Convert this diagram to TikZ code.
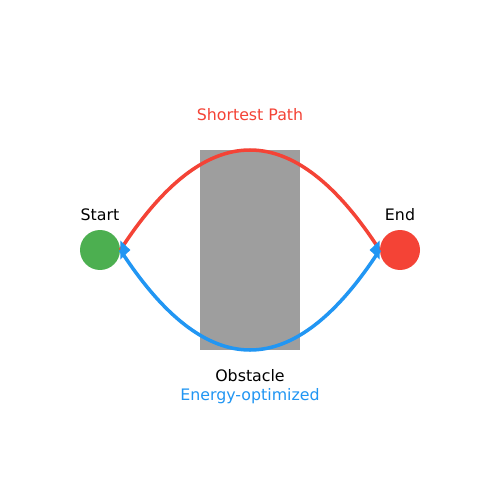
\documentclass[tikz,border=0pt]{standalone}
\usepackage{fontspec}
\setmainfont{DejaVu Sans}
\begin{document}
\begin{tikzpicture}[x=0.02cm,y=-0.02cm,
  lbl/.style={font=\fontsize{9}{10}\selectfont, anchor=base, inner sep=0pt},
  pt/.style={circle, minimum size=0.8cm, inner sep=0pt, draw=none},
  pathline/.style={line width=2pt}]
\definecolor{cred}{HTML}{F44336}
\definecolor{cblue}{HTML}{2196F3}
\definecolor{cgreen}{HTML}{4CAF50}
\definecolor{cgray}{HTML}{9E9E9E}
\useasboundingbox[fill=white] (0,0) rectangle (500,500);
% obstacle
\node[fill=cgray, minimum width=2cm, minimum height=4cm, inner sep=0pt] (obs) at (250,250) {};
% start / end
\node[pt, fill=cgreen] (start) at (100,250) {};
\node[pt, fill=cred] (end) at (400,250) {};
% paths
\draw[pathline, cred] (start.east) .. controls (206.67,116.67) and (293.33,116.67) .. (end.west);
\draw[pathline, cblue] (end.west) .. controls (293.33,383.33) and (206.67,383.33) .. (start.east);
% arrow heads
\fill[cblue] (start.east) ++(0,-9.5) -- ++(0,19) -- ++(10,-9.5) -- cycle;
\fill[cblue] (end.west) ++(0,-9.5) -- ++(0,19) -- ++(-10,-9.5) -- cycle;
% labels
\node[lbl, text=cred] (lshort) at (250,120) {Shortest Path};
\node[lbl] (lstart) at (100,220) {Start};
\node[lbl] (lend) at (400,220) {End};
\node[lbl] (lobs) at (250,381) {Obstacle};
\node[lbl, text=cblue] (lenergy) at (250,400) {Energy-optimized};
\end{tikzpicture}
\end{document}
